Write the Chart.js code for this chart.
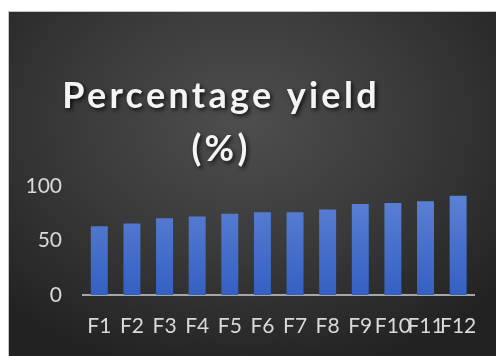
<html lang="en">
  <head>
    <meta charset="UTF-8" />
    <title>Percentage yield</title>
    <script src="https://cdn.jsdelivr.net/npm/chart.js"></script>
    <style>
      body { margin: 0; background: #ffffff; }
      .panel {
        position: absolute;
        left: 8px;
        top: 11px;
        width: 488px;
        height: 345px;
        border-top: 1px solid #c4c4c4;
        border-left: 1px solid #c4c4c4;
        box-sizing: border-box;
        background: radial-gradient(ellipse 70% 75% at 48% 32%, #4e4e4e 0%, #3a3a3a 50%, #222222 100%);
      }
    </style>
  </head>
  <body>
    <div class="panel">
      <canvas id="yield-chart"></canvas>
    </div>

    <script>
      const formulations = ["F1", "F2", "F3", "F4", "F5", "F6", "F7", "F8", "F9", "F10", "F11", "F12"];
      const yieldValues = [63, 65.5, 70.5, 72, 74.5, 76, 76, 78.5, 83.5, 84.5, 86, 91];
      const yTicks = [0, 50, 100];
      const titleLines = ["Percentage yield", "(%)"];

      // big shadowed title, centred a bit left of the plot like the slide layout
      const slideTitle = {
        id: "slideTitle",
        afterDraw(chart) {
          const ctx = chart.ctx;
          ctx.save();
          ctx.font = "bold 36px Lato";
          ctx.letterSpacing = "3.3px";
          ctx.textAlign = "center";
          ctx.textBaseline = "alphabetic";
          ctx.fillStyle = "#f4f4f4";
          ctx.shadowColor = "rgba(0,0,0,0.75)";
          ctx.shadowBlur = 4;
          ctx.shadowOffsetX = 2;
          ctx.shadowOffsetY = 2;
          ctx.fillText(titleLines[0], 212, 96);
          ctx.fillText(titleLines[1], 212, 149);
          ctx.restore();
        },
      };

      const yieldChart = document.getElementById("yield-chart");
      new Chart(yieldChart, {
        type: "bar",
        data: {
          labels: formulations,
          datasets: [
            {
              label: "Percentage yield (%)",
              data: yieldValues,
              backgroundColor: (context) => {
                const area = context.chart.chartArea;
                if (!area) return "#4470cc";
                const g = context.chart.ctx.createLinearGradient(0, area.top, 0, area.bottom);
                g.addColorStop(0, "#5f84d6");
                g.addColorStop(1, "#3460c2");
                return g;
              },
              borderWidth: 0,
              barPercentage: 0.52,
              categoryPercentage: 1,
            },
          ],
        },
        options: {
          responsive: true,
          maintainAspectRatio: false,
          animation: false,
          layout: {
            padding: { top: 174, right: 18, left: 0, bottom: 0 },
          },
          plugins: {
            legend: { display: false },
            tooltip: { enabled: false },
          },
          scales: {
            x: {
              grid: { display: false, drawTicks: false },
              border: { display: true, color: "#a6a6a6", width: 2 },
              ticks: {
                color: "#d9d9d9",
                font: { family: "Lato", size: 21 },
                padding: 19,
                autoSkip: false,
                maxRotation: 0,
                minRotation: 0,
              },
              afterFit: (scale) => {
                scale.height = 61;
              },
            },
            y: {
              min: 0,
              max: 100,
              grid: { display: false, drawTicks: false },
              border: { display: false },
              afterBuildTicks: (scale) => {
                scale.ticks = yTicks.map((v) => ({ value: v }));
              },
              ticks: {
                color: "#d9d9d9",
                font: { family: "Lato", size: 21 },
                padding: 21,
              },
              afterFit: (scale) => {
                scale.width = 74;
              },
            },
          },
        },
        plugins: [slideTitle],
      });
    </script>
  </body>
</html>
